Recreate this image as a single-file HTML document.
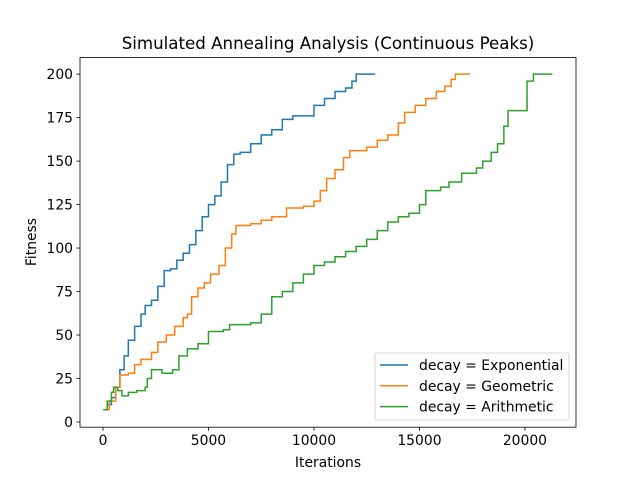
<!DOCTYPE html>
<html><head><meta charset="utf-8"><style>
body{margin:0;background:#fff}
svg text{font-family:"DejaVu Sans","Liberation Sans",sans-serif;fill:#000}
</style></head><body>
<svg id="chart" width="640" height="480" xmlns="http://www.w3.org/2000/svg">
<rect width="640" height="480" fill="#fff"/>
<text x="328" y="49" font-size="16.67" text-anchor="middle">Simulated Annealing Analysis (Continuous Peaks)</text>
<g id="grid"></g>
<g id="series"></g>
<rect x="80" y="57.6" width="496" height="369.6" fill="none" stroke="#000" stroke-width="0.8"/>
<text x="328" y="467" font-size="13.9" text-anchor="middle">Iterations</text>
<text x="36" y="242" font-size="13.9" text-anchor="middle" transform="rotate(-90 36 242)">Fitness</text>
<g id="legend"></g>
</svg>
<script>
const xTicks=[0,5000,10000,15000,20000];
const yTicks=[0,25,50,75,100,125,150,175,200];
const seriesNames=["decay = Exponential","decay = Geometric","decay = Arithmetic"];
const colors=["#1f77b4","#ff7f0e","#2ca02c"];
const expX=[0,200,400,600,800,1000,1200,1500,1800,2000,2300,2600,2900,3200,3500,3800,4100,4400,4700,5000,5300,5600,5900,6200,6500,7000,7500,8000,8500,9000,9500,10000,10500,11000,11500,11800,12000,12900];
const expY=[7,10,14,20,30,38,47,55,62,67,70,78,87,88,93,97,102,110,118,125,130,138,148,154,155,160,165,168,174,176,176,182,186,190,192,196,200,200];
const geoX=[0,300,600,800,1200,1500,1800,2300,2600,3000,3400,3800,4000,4200,4500,4800,5100,5500,5800,6100,6300,7000,7500,8000,8700,9500,10000,10300,10600,11000,11400,11700,12500,13000,13500,14000,14300,14800,15300,15800,16200,16500,16700,17400];
const geoY=[7,12,20,27,28,33,36,40,46,50,55,60,62,72,77,80,85,90,100,108,113,114,116,118,123,124,127,133,140,145,152,156,158,162,165,172,178,182,186,190,193,197,200,200];
const ariX=[0,200,400,500,700,900,1200,1600,2000,2100,2300,2800,3300,3600,4000,4500,5000,5700,6000,7000,7500,8000,8500,9000,9500,10000,10500,11000,11500,12000,12500,13000,13500,14000,14500,15000,15300,16000,16400,17000,17700,18000,18400,18700,19000,19200,20100,20400,21300];
const ariY=[7,12,17,20,18,15,17,18,20,25,30,28,30,38,42,45,52,53,56,57,62,72,75,80,85,90,92,95,98,101,105,110,115,118,120,125,133,135,138,143,146,150,155,160,170,179,196,200,200];
const L=80,R=576,T=57.6,B=427.2,xMin=-1090,xMax=22420,yMin=-3,yMax=209.5;
const sx=v=>L+(v-xMin)/(xMax-xMin)*(R-L);
const sy=v=>B-(v-yMin)/(yMax-yMin)*(B-T);
const NS="http://www.w3.org/2000/svg";
const g=document.getElementById('grid');
function mk(tag,attrs,parent){const e=document.createElementNS(NS,tag);for(const k in attrs)e.setAttribute(k,attrs[k]);parent.appendChild(e);return e;}
xTicks.forEach(t=>{
  const l=mk('line',{x1:sx(t),x2:sx(t),y1:B,y2:B+3.5,stroke:'#000','stroke-width':0.8},g);
  
  
  const tx=mk('text',{x:sx(t),y:B+18,'font-size':13.9,'text-anchor':'middle'},g);tx.textContent=t;
  
  
});
yTicks.forEach(t=>{
  const l=mk('line',{x1:L-3.5,x2:L,y1:sy(t),y2:sy(t),stroke:'#000','stroke-width':0.8},g);
  
  
  const tx=mk('text',{x:L-7,y:sy(t)+5,'font-size':13.9,'text-anchor':'end'},g);tx.textContent=t;
  
  
});
const sg=document.getElementById('series');
[[expX,expY],[geoX,geoY],[ariX,ariY]].forEach((s,i)=>{
  let d='M'+sx(s[0][0])+','+sy(s[1][0]);
  for(let j=1;j<s[0].length;j++){d+=' L'+sx(s[0][j])+','+sy(s[1][j-1])+' L'+sx(s[0][j])+','+sy(s[1][j]);}
  const p=mk('path',{d:d,fill:'none',stroke:colors[i],'stroke-width':1.5},sg);
  
  
});
const lg=document.getElementById('legend');
const box=mk('rect',{x:375,y:353,width:194,height:67,rx:2,fill:'#fff','fill-opacity':0.8,stroke:'#ccc','stroke-width':0.8},lg);


seriesNames.forEach((n,i)=>{
  const y=365+i*20.8;
  const l=mk('line',{x1:380,x2:408,y1:y,y2:y,stroke:colors[i],'stroke-width':1.5},lg);
  
  
  const t=mk('text',{x:419,y:y+5,'font-size':13.9},lg);t.textContent=n;
  
  
});
</script>
</body></html>
